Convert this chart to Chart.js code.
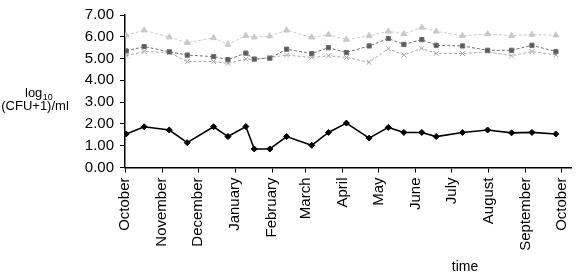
<!DOCTYPE html>
<html>
<head>
<meta charset="utf-8">
<script src="https://cdn.jsdelivr.net/npm/chart.js@4/dist/chart.umd.min.js"></script>
<style>
  html, body { margin: 0; padding: 0; background: #fff; }
  #wrap { width: 585px; height: 275px; position: relative; }
</style>
</head>
<body>
<div id="wrap"><canvas id="c" width="585" height="275"></canvas></div>
<script>
// Month tick positions (days since 1 October) and their labels
const monthDays = [0, 31, 61, 92, 123, 151, 182, 212, 243, 273, 304, 335, 365];
const monthLabels = ['October', 'November', 'December', 'January', 'February', 'March',
  'April', 'May', 'June', 'July', 'August', 'September', 'October'];

// Sampling days (days since 1 October)
const sampleDays = [1, 16, 37, 52, 74, 86, 101, 108, 121, 135, 156, 170, 185, 204, 220, 233, 248, 260, 282, 303, 323, 340, 360];

// log10 (CFU+1)/ml values
const seriesDiamond = [1.54, 1.87, 1.72, 1.14, 1.87, 1.42, 1.88, 0.85, 0.85, 1.42, 1.02, 1.61, 2.04, 1.35, 1.84, 1.61, 1.61, 1.42, 1.61, 1.72, 1.59, 1.61, 1.54];
const seriesTriangle = [6.07, 6.30, 5.98, 5.73, 5.95, 5.65, 6.05, 5.98, 6.03, 6.30, 5.98, 6.10, 5.87, 6.05, 6.25, 6.13, 6.43, 6.25, 6.05, 6.13, 6.05, 6.10, 6.07];
const seriesSquare = [5.35, 5.55, 5.31, 5.16, 5.09, 4.95, 5.25, 4.98, 5.02, 5.43, 5.23, 5.50, 5.28, 5.58, 5.92, 5.65, 5.87, 5.61, 5.58, 5.38, 5.38, 5.61, 5.32];
const seriesCross = [5.13, 5.32, 5.28, 4.86, 4.86, 4.78, 4.98, 4.95, 5.05, 5.16, 5.05, 5.13, 5.05, 4.83, 5.46, 5.16, 5.47, 5.23, 5.23, 5.31, 5.13, 5.32, 5.17];

const yTicks = [0, 1, 2, 3, 4, 5, 6, 7];

function pts(vals) { return vals.map((v, i) => ({ x: sampleDays[i], y: v })); }

const FONT = '"Liberation Sans", Arial, sans-serif';

const titlesPlugin = {
  id: 'titles',
  afterDraw(chart) {
    const ctx = chart.ctx;
    ctx.save();
    ctx.fillStyle = '#000';
    ctx.textBaseline = 'alphabetic';
    ctx.textAlign = 'left';
    ctx.font = '13px ' + FONT;
    ctx.fillText('log', 25, 97);
    const w = ctx.measureText('log').width;
    ctx.font = '9px ' + FONT;
    ctx.fillText('10', 25 + w + 0.5, 100);
    ctx.font = '13px ' + FONT;
    ctx.textAlign = 'center';
    ctx.fillText('(CFU+1)/ml', 35, 110);
    ctx.font = '14px ' + FONT;
    ctx.fillText('time', 465, 271);
    ctx.restore();
  }
};

new Chart(document.getElementById('c'), {
  type: 'line',
  data: {
    datasets: [
      {
        label: 'triangle', data: pts(seriesTriangle),
        borderColor: '#cacaca', backgroundColor: '#c8c8c8', borderWidth: 1, borderDash: [3, 2],
        pointStyle: 'triangle', pointRadius: 3.5, pointBorderWidth: 1, tension: 0
      },
      {
        label: 'square', data: pts(seriesSquare),
        borderColor: '#707070', backgroundColor: '#5a5a5a', borderWidth: 1, borderDash: [3, 2],
        pointStyle: 'rect', pointRadius: 3, pointBorderWidth: 1, tension: 0
      },
      {
        label: 'cross', data: pts(seriesCross),
        borderColor: '#a8a8a8', backgroundColor: '#a0a0a0', borderWidth: 1, borderDash: [3, 2],
        pointStyle: 'crossRot', pointRadius: 3.5, pointBorderWidth: 1, tension: 0
      },
      {
        label: 'diamond', data: pts(seriesDiamond),
        borderColor: '#000', backgroundColor: '#000', borderWidth: 1.6,
        pointStyle: 'rectRot', pointRadius: 3, pointBorderWidth: 1, tension: 0
      }
    ]
  },
  options: {
    responsive: false,
    animation: false,
    devicePixelRatio: 1,
    layout: { padding: { top: 7, right: 7, left: 0, bottom: 0 } },
    plugins: { legend: { display: false }, tooltip: { enabled: false } },
    scales: {
      x: {
        type: 'linear', min: 0, max: 373,
        afterBuildTicks(scale) { scale.ticks = monthDays.map(v => ({ value: v })); },
        afterFit(scale) { scale.height = 107.5; },
        grid: { display: true, drawOnChartArea: false, drawTicks: true, tickLength: 5, color: '#000', lineWidth: 1 },
        border: { display: true, color: '#000', width: 1.5 },
        ticks: {
          autoSkip: false, minRotation: 90, maxRotation: 90, padding: 5, color: '#000',
          font: { family: FONT, size: 15 },
          callback(value) { const i = monthDays.indexOf(value); return i >= 0 ? monthLabels[i] : ''; }
        }
      },
      y: {
        min: 0, max: 7,
        afterBuildTicks(scale) { scale.ticks = yTicks.map(v => ({ value: v })); },
        afterFit(scale) { scale.width = 125; },
        grid: { display: true, drawOnChartArea: false, drawTicks: true, tickLength: 5, color: '#000', lineWidth: 1 },
        border: { display: true, color: '#000', width: 1.5 },
        ticks: {
          autoSkip: false, padding: 6, color: '#000', font: { family: FONT, size: 15 },
          callback(value) { return Number(value).toFixed(2); }
        }
      }
    }
  },
  plugins: [titlesPlugin]
});
</script>
</body>
</html>
